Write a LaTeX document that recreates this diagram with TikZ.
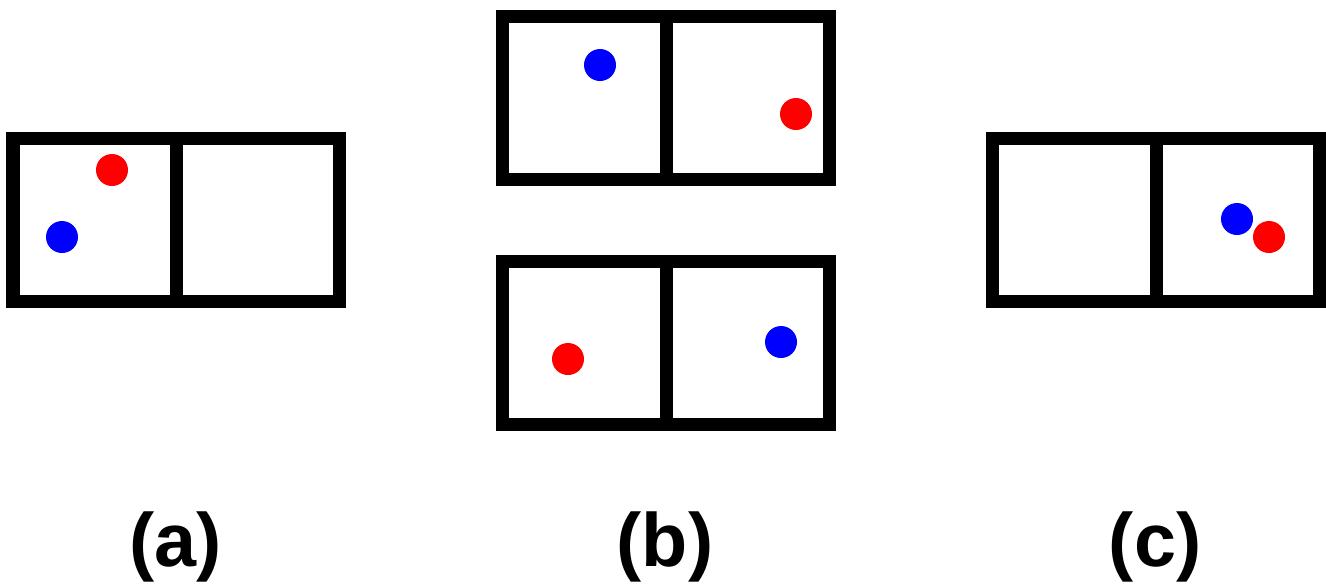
\documentclass[tikz,border=0pt]{standalone}
\usepackage{fontspec}
\setmainfont{Liberation Sans}
\definecolor{ballred}{RGB}{255,0,0}
\definecolor{ballblue}{RGB}{0,0,255}

\begin{document}
\begin{tikzpicture}[x=0.02cm, y=-0.02cm]
  \tikzset{
      wall/.style={draw, line width=7.4pt},
      ball/.style={circle, inner sep=0pt, minimum size=0.64cm},
      caption/.style={anchor=base, font=\fontsize{43}{50}\selectfont\bfseries}
  }
  \useasboundingbox (0,0) rectangle (1326,586);

  % (a) both in the left cell
  \draw[wall] (13,138.5) rectangle (339.5,301.5);
  \draw[wall] (176.5,138.5) -- (176.5,301.5);
  \node[ball, fill=ballred]  (a1) at (112,170) {};
  \node[ball, fill=ballblue] (a2) at (62,237) {};
  \node[caption] (capa) at (176,566) {(a)};

  % (b) one in each cell
  \draw[wall] (502.5,16) rectangle (829.5,179);
  \draw[wall] (666,16) -- (666,179);
  \node[ball, fill=ballblue] (b1) at (600,65) {};
  \node[ball, fill=ballred]  (b2) at (796,114) {};

  \draw[wall] (502.5,261) rectangle (829.5,424);
  \draw[wall] (666,261) -- (666,424);
  \node[ball, fill=ballred]  (b3) at (568,359) {};
  \node[ball, fill=ballblue] (b4) at (781,342) {};
  \node[caption] (capb) at (665,566) {(b)};

  % (c) both in the right cell
  \draw[wall] (992.5,138.5) rectangle (1319.5,301.5);
  \draw[wall] (1156,138.5) -- (1156,301.5);
  \node[ball, fill=ballblue] (c1) at (1237,219) {};
  \node[ball, fill=ballred]  (c2) at (1269,237) {};
  \node[caption] (capc) at (1155,566) {(c)};
\end{tikzpicture}
\end{document}
